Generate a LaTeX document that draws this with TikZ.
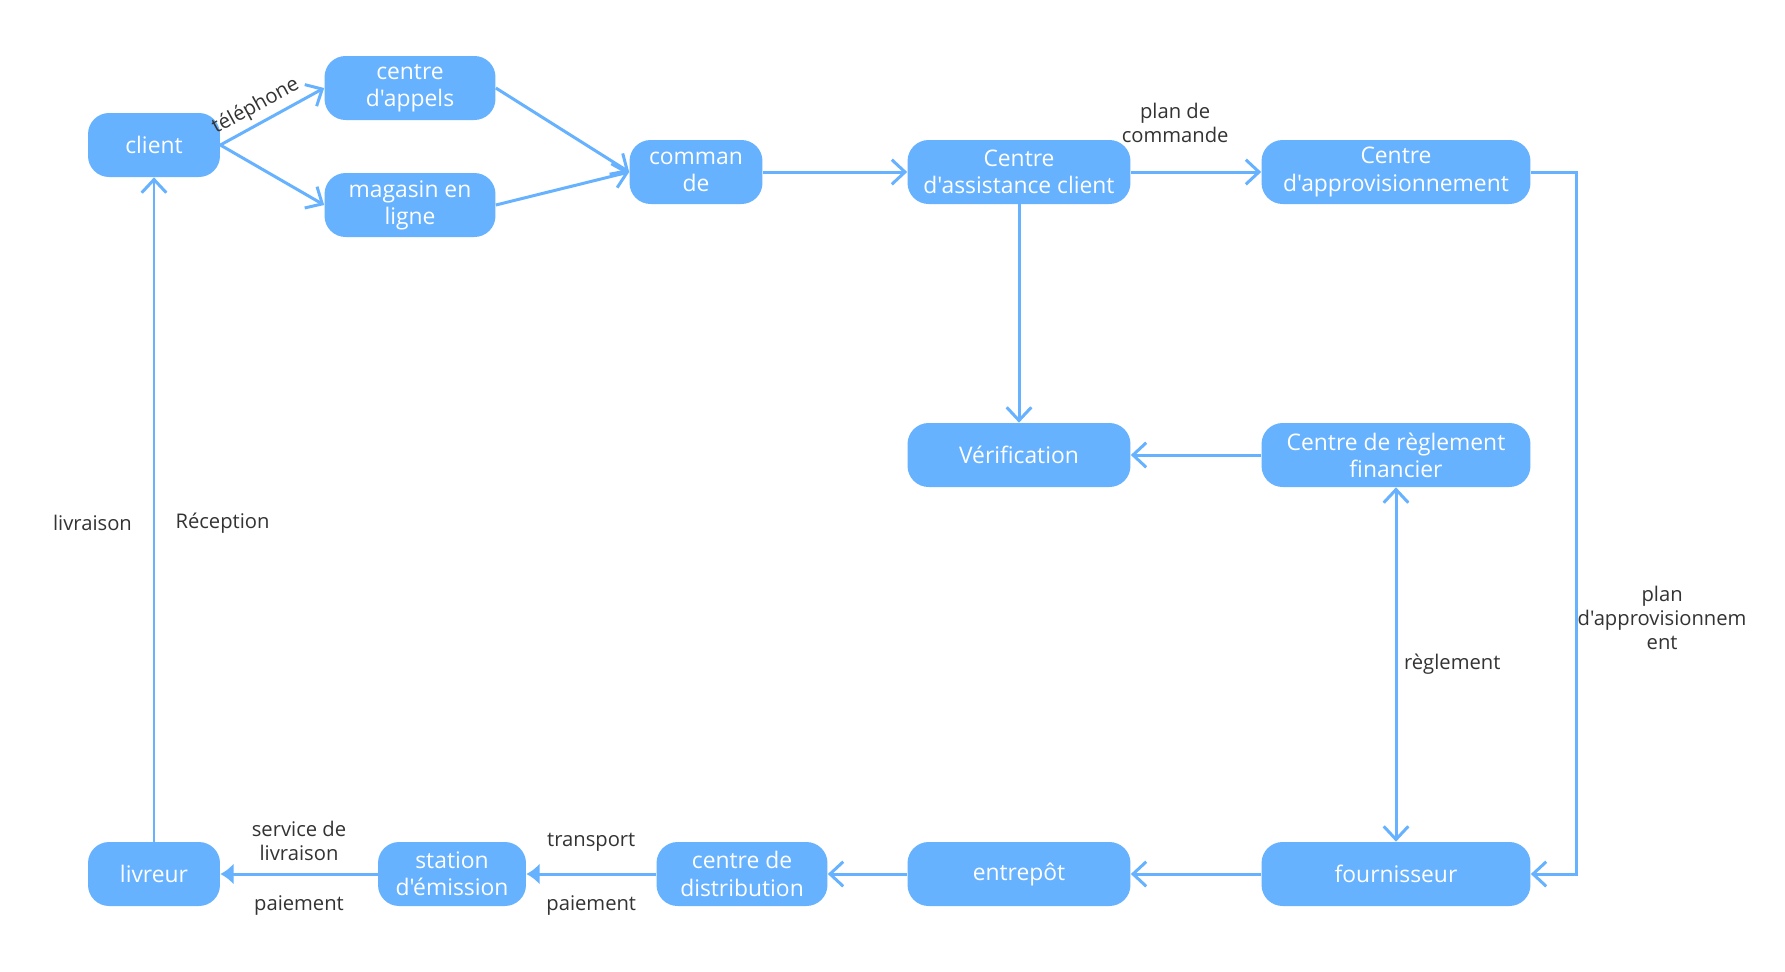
\documentclass[tikz,border=0pt]{standalone}
\usepackage{fontspec}
\setmainfont{Open Sans}[Ligatures=TeXOff]
\usetikzlibrary{arrows.meta}

\definecolor{bleu}{HTML}{66B2FF}
\definecolor{gristexte}{HTML}{333333}

\tikzset{
  etape/.style={fill=bleu, rounded corners=12pt, text=white, align=center,
    inner sep=0pt, minimum height=1.28cm, font=\fontsize{13}{15.5}\selectfont},
  fleche/.style={draw=bleu, line width=1.7pt,
    -{Straight Barb[length=7.5pt,width=14pt]}},
  pleine/.style={draw=bleu, line width=1.7pt,
    -{Latex[length=7.5pt,width=12pt]}},
  etiq/.style={text=gristexte, align=center, inner sep=1pt,
    font=\fontsize{11.5}{13.5}\selectfont},
}

\begin{document}
\begin{tikzpicture}[x=0.02cm, y=-0.02cm]
  % Cadre
  \useasboundingbox[fill=white] (0,0) rectangle (1785,971);

  % Étapes du haut
  \node[etape, minimum width=2.64cm] (client) at (154,145) {client};
  \node[etape, minimum width=3.42cm] (appels) at (410,88) {centre\\d'appels};
  \node[etape, minimum width=3.42cm] (magasin) at (410,205) {magasin en\\ligne};
  \node[etape, minimum width=2.66cm] (commande) at (696,172) {comman\\de};
  \node[etape, minimum width=4.46cm] (assistance) at (1019,172) {Centre\\d'assistance client};
  \node[etape, minimum width=5.38cm] (appro) at (1396,172) {Centre\\d'approvisionnement};

  % Étapes du milieu
  \node[etape, minimum width=4.46cm] (verif) at (1019,455) {Vérification};
  \node[etape, minimum width=5.38cm] (reglement) at (1396,455) {Centre de règlement\\financier};

  % Étapes du bas
  \node[etape, minimum width=5.38cm] (fournisseur) at (1396,874) {fournisseur};
  \node[etape, minimum width=4.46cm] (entrepot) at (1019,874) {entrepôt};
  \node[etape, minimum width=3.42cm] (distribution) at (742,874) {centre de\\distribution};
  \node[etape, minimum width=2.96cm] (station) at (452,874) {station\\d'émission};
  \node[etape, minimum width=2.64cm] (livreur) at (154,874) {livreur};

  \coordinate (coude) at (1576,618);

  % Flux de commande
  \draw[fleche] (client.east) -- node[etiq, sloped, above=2pt, pos=0.42] {téléphone} (appels.west);
  \draw[fleche] (client.east) -- (magasin.west);
  \draw[fleche] (appels.east) -- (commande.west);
  \draw[fleche] (magasin.east) -- (commande.west);
  \draw[fleche] (commande) -- (assistance);
  \draw[fleche] (assistance) -- node[etiq, pos=0.34, yshift=28pt] {plan de\\commande} (appro);
  \draw[fleche] (appro.east) -| (coude) |- (fournisseur.east);
  \node[etiq, xshift=49pt] at (coude) {plan\\d'approvisionnem\\ent};
  \draw[fleche] (assistance) -- (verif);
  \draw[fleche] (reglement) -- (verif);
  \draw[fleche, {Straight Barb[length=7.5pt,width=14pt]}-{Straight Barb[length=7.5pt,width=14pt]}]
    (reglement) -- node[etiq, xshift=32pt] {règlement} (fournisseur);

  % Flux de livraison
  \draw[fleche] (fournisseur) -- (entrepot);
  \draw[fleche] (entrepot) -- (distribution);
  \draw[pleine] (distribution) -- node[etiq, yshift=18pt] {transport}
    node[etiq, yshift=-18pt] {paiement} (station);
  \draw[pleine] (station) -- node[etiq, yshift=19pt] {service de\\livraison}
    node[etiq, yshift=-18pt] {paiement} (livreur);
  \draw[fleche] (livreur) -- node[etiq, pos=0.48, xshift=-35pt] {livraison}
    node[etiq, pos=0.48, xshift=39pt] {Réception} (client);
\end{tikzpicture}
\end{document}
